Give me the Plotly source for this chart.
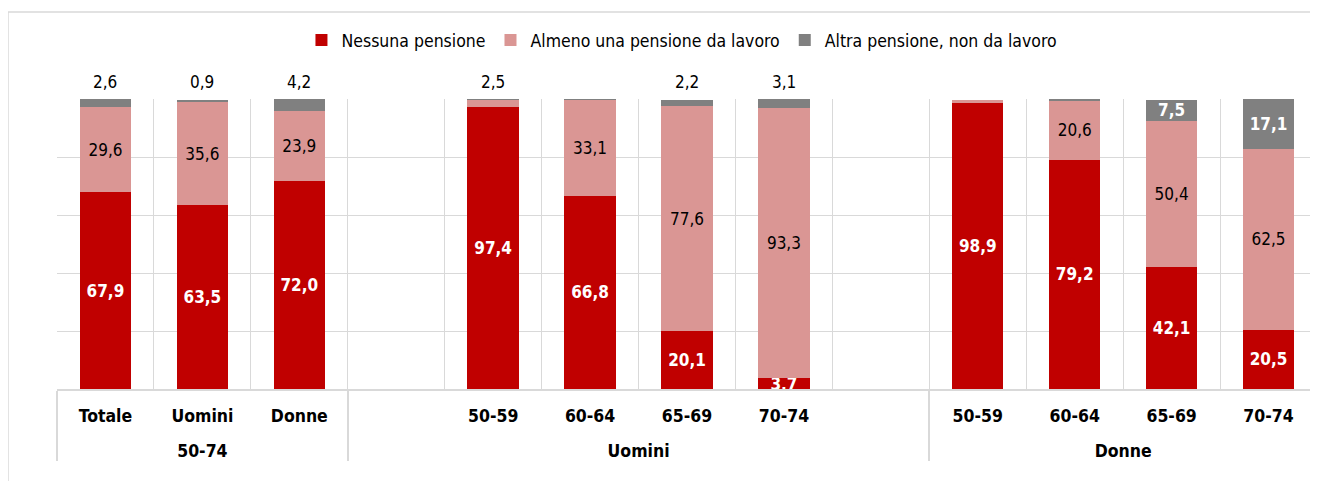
import plotly.graph_objects as go

# Dati (valori percentuali)
gruppi = ["50-74", "50-74", "50-74",
          "Uomini", "Uomini", "Uomini", "Uomini",
          "Donne", "Donne", "Donne", "Donne"]
categorie = ["Totale", "Uomini", "Donne",
             "50-59", "60-64", "65-69", "70-74",
             "50-59", "60-64", "65-69", "70-74"]
nessuna = [67.9, 63.5, 72.0, 97.4, 66.8, 20.1, 3.7, 98.9, 79.2, 42.1, 20.5]
almeno = [29.6, 35.6, 23.9, 2.5, 33.1, 77.6, 93.3, 1.1, 20.6, 50.4, 62.5]
altra = [2.6, 0.9, 4.2, 0.1, 0.1, 2.2, 3.1, 0.0, 0.2, 7.5, 17.1]

serie = ["Nessuna pensione", "Almeno una pensione da lavoro", "Altra pensione, non da lavoro"]
colori = ["#C00000", "#DA9694", "#808080"]

FONT = "DejaVu Sans Condensed, Liberation Sans Narrow, Arial Narrow, sans-serif"


def pad(vals, a=None, b=None):
    # slot vuoto prima e dopo il gruppo "Uomini"
    return list(vals[:3]) + [a] + list(vals[3:7]) + [b] + list(vals[7:])


livello1 = ["<br>" + g for g in pad(gruppi, "Uomini", "Uomini")]
x = [livello1, pad(categorie, " ", "  ")]


def fmt(v):
    return f"{v:.1f}".replace(".", ",")


fig = go.Figure()

# etichette interne
lab_red = [f"<b>{fmt(v)}</b>" if v >= 3 else "" for v in nessuna]
lab_pink = [fmt(v) if v >= 7 else "" for v in almeno]
lab_grey = [f"<b>{fmt(v)}</b>" if v >= 7 else "" for v in altra]

for nome, col, vals, lab, tcol in [
    (serie[0], colori[0], nessuna, lab_red, "white"),
    (serie[1], colori[1], almeno, lab_pink, "black"),
    (serie[2], colori[2], altra, lab_grey, "white"),
]:
    fig.add_trace(go.Bar(
        x=x, y=pad(vals), name=nome, marker_color=col, marker_line_width=0,
        text=pad(lab, "", ""), textposition="inside", insidetextanchor="middle",
        textangle=0, textfont=dict(color=tcol, size=17, family=FONT),
        cliponaxis=False, hoverinfo="skip",
    ))

# etichette sopra le barre (segmenti piccoli)
top = []
for p, g in zip(almeno, altra):
    if 0.5 <= g < 7:
        top.append(fmt(g))
    elif g < 0.5 and 2 <= p < 7:
        top.append(fmt(p))
    else:
        top.append("")
for i, t in enumerate(pad(top, "", "")):
    if t:
        fig.add_annotation(x=i, y=100, xref="x", yref="y", text=t, showarrow=False,
                           yanchor="bottom", yshift=6,
                           font=dict(size=17, color="black", family=FONT))

n = len(x[0])
fig.update_layout(
    barmode="stack",
    bargap=0.47,
    width=1318, height=481,
    margin=dict(l=49, r=9, t=91, b=100),
    paper_bgcolor="white", plot_bgcolor="white",
    font=dict(family=FONT, size=16, color="black"),
    uniformtext=dict(minsize=17, mode="show"),
    legend=dict(orientation="h", x=0.496, xanchor="center", y=1.203, yanchor="middle",
                font=dict(size=17.5), traceorder="normal", itemclick=False),
    showlegend=True,
    shapes=[dict(type="rect", xref="paper", yref="paper",
                 x0=-0.0389, x1=1.02, y0=-0.4, y1=1.3,
                 line=dict(color="#D9D9D9", width=1.5), fillcolor="rgba(0,0,0,0)",
                 layer="below")],
)
fig.update_xaxes(
    type="multicategory", tickson="boundaries", range=[-0.5, n - 0.5],
    ticks="", ticklabelstandoff=10, automargin=False,
    showgrid=True, gridcolor="#D9D9D9", gridwidth=1,
    showline=True, linecolor="#D9D9D9", linewidth=1.5,
    showdividers=True, dividercolor="#D9D9D9", dividerwidth=1.5,
    tickfont=dict(size=17.5, color="black", family=FONT, weight="bold"),
)
fig.update_yaxes(
    range=[0, 100.2], tick0=0, dtick=20, showticklabels=False, ticks="", automargin=False,
    showgrid=True, gridcolor="#D9D9D9", gridwidth=1, zeroline=False,
)

fig.write_html("out.html")
